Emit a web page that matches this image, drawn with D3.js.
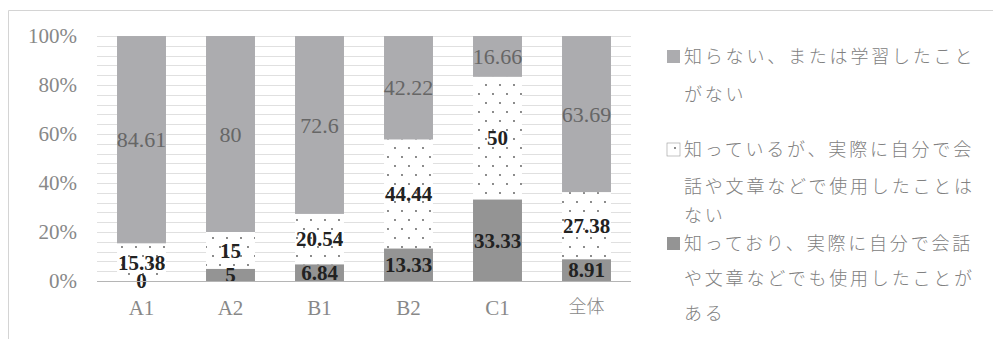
<!DOCTYPE html>
<html>
<head>
<meta charset="utf-8">
<script src="https://cdn.jsdelivr.net/npm/d3@7"></script>
<style>
  body { margin: 0; background: #fff; }
  svg { display: block; }
</style>
</head>
<body>
<div id="chart-area"></div>
<script>
// data
var categories = ['A1', 'A2', 'B1', 'B2', 'C1', '全体'];
var usedValues = [0, 5, 6.84, 13.33, 33.33, 8.91];          // 知っており、実際に…使用したことがある
var knownValues = [15.38, 15, 20.54, 44.44, 50, 27.38];      // 知っているが、…使用したことはない
var unknownValues = [84.61, 80, 72.6, 42.22, 16.66, 63.69];  // 知らない、または学習したことがない
var yTicks = [0, 20, 40, 60, 80, 100];
var legendLines = [
    ['知らない、または学習したこと', 'がない'],
    ['知っているが、実際に自分で会', '話や文章などで使用したことは', 'ない'],
    ['知っており、実際に自分で会話', 'や文章などでも使用したことが', 'ある']
];

var width = 993, height = 339;
var serif = '"Liberation Serif", "DejaVu Serif", serif';
var jp = '"Noto Sans CJK JP", sans-serif';

var svg = d3.select('#chart-area').append('svg')
    .attr('width', width).attr('height', height);

// dot pattern for the middle series
var defs = svg.append('defs');
var pat = defs.append('pattern')
    .attr('id', 'dots').attr('patternUnits', 'userSpaceOnUse')
    .attr('width', 14).attr('height', 18);
pat.append('rect').attr('width', 14).attr('height', 18).attr('fill', '#fff');
pat.append('circle').attr('cx', 3).attr('cy', 4).attr('r', 0.9).attr('fill', '#555');
pat.append('circle').attr('cx', 10).attr('cy', 13).attr('r', 0.9).attr('fill', '#555');

// chart frame
svg.append('path')
    .attr('d', 'M8.5,' + height + 'V10.5H' + width)
    .attr('fill', 'none').attr('stroke', '#d4d4d4');

// scales
var xScale = d3.scaleBand().domain(categories).range([97, 631])
    .paddingInner(0.45).paddingOuter(0.225);
var yScale = d3.scaleLinear().domain([0, 100]).range([281, 36]);

// minor gridlines every 4%
var g = svg.append('g');
g.selectAll('line.grid')
    .data(d3.range(4, 101, 4))
    .enter().append('line')
        .attr('class', 'grid')
        .attr('x1', 97).attr('x2', 631)
        .attr('y1', function(d) { return Math.round(yScale(d)) + 0.5; })
        .attr('y2', function(d) { return Math.round(yScale(d)) + 0.5; })
        .attr('stroke', '#e0e0e0');

// stacked series
var rows = categories.map(function(c, i) {
    return { cat: c, used: usedValues[i], known: knownValues[i], unknown: unknownValues[i] };
});
var stack = d3.stack().keys(['used', 'known', 'unknown']);
var series = stack(rows);
var fills = { used: '#949494', known: 'url(#dots)', unknown: '#acacaf' };

series.forEach(function(s) {
    g.selectAll('rect.' + s.key)
        .data(s)
        .enter().append('rect')
            .attr('class', s.key)
            .attr('x', function(d) { return xScale(d.data.cat); })
            .attr('width', xScale.bandwidth())
            .attr('y', function(d) { return yScale(d[1]); })
            .attr('height', function(d) { return yScale(d[0]) - yScale(d[1]); })
            .attr('fill', fills[s.key]);
});

// axis
var yAxis = d3.axisLeft(yScale).tickValues(yTicks).tickSize(0).tickPadding(20)
    .tickFormat(function(d) { return d + '%'; });
var yAxisGroup = svg.append('g').attr('transform', 'translate(97,0)').call(yAxis);
yAxisGroup.select('.domain').remove();
yAxisGroup.selectAll('text')
    .attr('font-family', serif).attr('font-size', 21).attr('fill', '#888');

svg.append('line')
    .attr('x1', 97).attr('x2', 631).attr('y1', 281.5).attr('y2', 281.5)
    .attr('stroke', '#b5b5b5');

var xAxis = d3.axisBottom(xScale).tickSize(0).tickPadding(19);
var xAxisGroup = svg.append('g').attr('transform', 'translate(0,281)').call(xAxis);
xAxisGroup.select('.domain').remove();
xAxisGroup.selectAll('text')
    .attr('font-family', function(d) { return d === '全体' ? jp : serif; })
    .attr('font-size', function(d) { return d === '全体' ? 18 : 21; })
    .attr('font-weight', function(d) { return d === '全体' ? 300 : 'normal'; })
    .attr('fill', '#888');

// value labels
series.forEach(function(s) {
    var top = s.key === 'unknown';
    g.selectAll('text.' + s.key)
        .data(s)
        .enter().append('text')
            .attr('class', s.key)
            .attr('x', function(d) { return xScale(d.data.cat) + xScale.bandwidth() / 2; })
            .attr('y', function(d) { return yScale((d[0] + d[1]) / 2); })
            .attr('dy', '0.35em')
            .attr('text-anchor', 'middle')
            .attr('font-family', serif)
            .attr('font-size', top ? 22 : 21)
            .attr('font-weight', top ? 'normal' : 'bold')
            .attr('fill', top ? '#666' : '#222')
            .text(function(d) { return d.data[s.key]; });
});

// legend
var legendFills = ['#acacaf', 'url(#dots)', '#949494'];
var legendTop = [63, 156, 250];
var legendStep = [[0, 38], [0, 37, 66], [0, 35, 70]];
var legend = svg.append('g');
legendLines.forEach(function(lines, i) {
    legend.append('rect')
        .attr('x', 667).attr('y', legendTop[i] - 13)
        .attr('width', 13).attr('height', 13)
        .attr('fill', legendFills[i])
        .attr('stroke', i === 1 ? '#999' : 'none')
        .attr('stroke-width', 0.6);
    lines.forEach(function(line, j) {
        legend.append('text')
            .attr('x', 684).attr('y', legendTop[i] + legendStep[i][j])
            .attr('font-family', jp).attr('font-size', 18)
            .attr('font-weight', 300)
            .attr('letter-spacing', 2.8)
            .attr('fill', '#808080')
            .text(line);
    });
});
</script>
</body>
</html>
